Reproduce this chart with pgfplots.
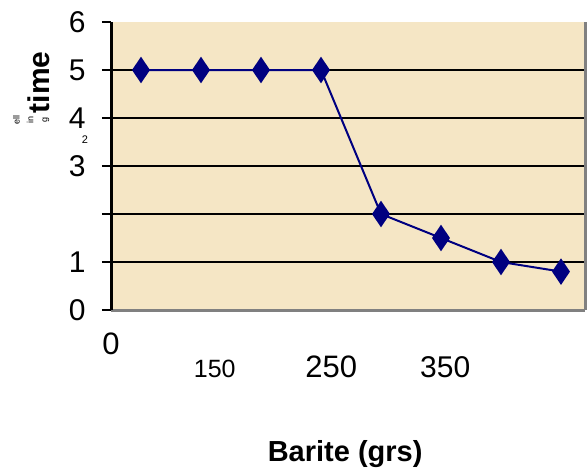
\documentclass[border=0pt]{standalone}
\usepackage{pgfplots}
\pgfplotsset{compat=1.18}
\usepackage{fontspec}
\setmainfont{Liberation Sans}
\definecolor{parch}{RGB}{245,230,197}
\definecolor{navyline}{RGB}{0,0,128}

\begin{document}
\begin{tikzpicture}
\useasboundingbox (0pt,0pt) rectangle (588pt,469pt);
\begin{axis}[
    at={(111pt,159pt)}, anchor=south west,
    scale only axis, width=474pt, height=288pt,
    xmin=0.5, xmax=8.4, ymin=0, ymax=6,
    axis x line*=bottom, axis y line*=left,
    x axis line style={draw=gray, line width=3pt, -},
    y axis line style={draw=black, line width=3pt, -},
    axis background/.style={fill=parch},
    clip=false,
    % y ticks
    ytick={0,6}, yticklabels={0,6},
    extra y ticks={1,2,3,4,5}, extra y tick labels={1,,3,4,5},
    extra y tick style={grid=major},
    major grid style={draw=black, line width=2pt},
    ytick style={draw=black, line width=2.5pt},
    tick align=outside, major tick length=9pt,
    yticklabel style={font=\fontsize{30}{30}\selectfont, anchor=east, xshift=-13pt},
    % x ticks
    xtick={0.5,2.23,4.17,6.07},
    xticklabels={\raisebox{23pt}{\fontsize{31}{31}\selectfont 0},
                 {\fontsize{25}{25}\selectfont 150},
                 {\fontsize{31}{31}\selectfont 250},
                 {\fontsize{30}{30}\selectfont 350}},
    xtick style={draw=none},
    xticklabel style={anchor=base, yshift=-58pt},
    xlabel={\bfseries Barite (grs)},
    xlabel style={font=\fontsize{29}{29}\selectfont, at={(axis description cs:0.494,-0.527)}, anchor=base},
    ylabel={\bfseries time},
    ylabel style={font=\fontsize{30}{30}\selectfont, at={(axis description cs:-0.129,0.79)}, anchor=base},
]
\draw[gray, line width=3pt] (rel axis cs:1,0) -- (rel axis cs:1,1);
\addplot[color=navyline, line width=2pt, mark=diamond*, mark size=11.5pt,
         mark options={xscale=0.9, fill=navyline, draw=navyline}]
    coordinates {
    (1, 5)
    (2, 5)
    (3, 5)
    (4, 5)
    (5, 2)
    (6, 1.5)
    (7, 1)
    (8, 0.8)
};
\end{axis}
\node[rotate=90, font=\fontsize{9}{9}\selectfont] at (16.5pt,349pt) {ell};
\node[rotate=90, font=\fontsize{9}{9}\selectfont] at (30pt,349pt) {in};
\node[rotate=90, font=\fontsize{9}{9}\selectfont] at (46pt,349pt) {g};
\node[font=\fontsize{11}{11}\selectfont, inner sep=0pt] at (85pt,329pt) {2};
\end{tikzpicture}
\end{document}
